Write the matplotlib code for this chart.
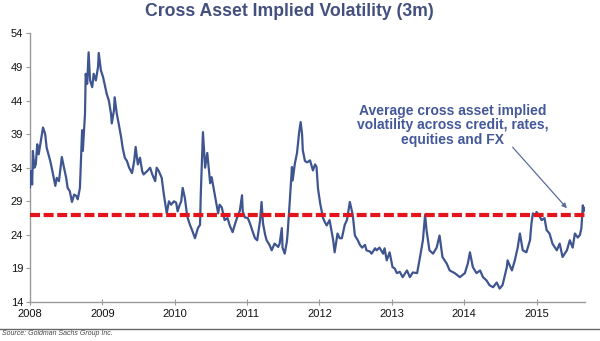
import matplotlib
matplotlib.use("Agg")
import matplotlib.pyplot as plt
import numpy as np

# ── series: 3m cross-asset implied vol, sampled as decimal years ─────────────
years = [
    2008.00, 2008.01, 2008.03, 2008.04, 2008.06, 2008.08, 2008.10, 2008.12, 2008.15, 2008.18,
    2008.21, 2008.23, 2008.28, 2008.30, 2008.35, 2008.37, 2008.40, 2008.44, 2008.47, 2008.50,
    2008.52, 2008.55, 2008.58, 2008.61, 2008.64, 2008.66, 2008.69, 2008.72, 2008.73, 2008.76,
    2008.77, 2008.79, 2008.80, 2008.81, 2008.83, 2008.86, 2008.88, 2008.91, 2008.94, 2008.95,
    2008.98, 2009.01, 2009.04, 2009.06, 2009.09, 2009.12, 2009.13, 2009.16, 2009.17, 2009.20,
    2009.23, 2009.26, 2009.28, 2009.31, 2009.34, 2009.37, 2009.41, 2009.44, 2009.46, 2009.49,
    2009.52, 2009.55, 2009.57, 2009.62, 2009.66, 2009.69, 2009.73, 2009.75, 2009.78, 2009.82,
    2009.85, 2009.89, 2009.92, 2009.95, 2009.99, 2010.02, 2010.04, 2010.07, 2010.09, 2010.11,
    2010.14, 2010.17, 2010.18, 2010.21, 2010.24, 2010.28, 2010.32, 2010.35, 2010.36, 2010.39,
    2010.42, 2010.45, 2010.49, 2010.51, 2010.56, 2010.60, 2010.62, 2010.65, 2010.69, 2010.73,
    2010.76, 2010.80, 2010.83, 2010.86, 2010.90, 2010.93, 2010.94, 2010.97, 2011.01, 2011.04,
    2011.08, 2011.11, 2011.14, 2011.18, 2011.20, 2011.22, 2011.25, 2011.27, 2011.31, 2011.34,
    2011.38, 2011.43, 2011.45, 2011.48, 2011.49, 2011.52, 2011.55, 2011.56, 2011.59, 2011.62,
    2011.63, 2011.66, 2011.69, 2011.72, 2011.74, 2011.76, 2011.77, 2011.80, 2011.83, 2011.87,
    2011.91, 2011.94, 2011.96, 2011.98, 2012.01, 2012.05, 2012.07, 2012.10, 2012.14, 2012.19,
    2012.21, 2012.25, 2012.28, 2012.31, 2012.35, 2012.38, 2012.42, 2012.45, 2012.46, 2012.49,
    2012.53, 2012.56, 2012.59, 2012.63, 2012.65, 2012.70, 2012.72, 2012.77, 2012.79, 2012.83,
    2012.88, 2012.90, 2012.93, 2012.97, 2013.01, 2013.04, 2013.07, 2013.11, 2013.15, 2013.18,
    2013.21, 2013.25, 2013.29, 2013.35, 2013.39, 2013.43, 2013.46, 2013.48, 2013.52, 2013.57,
    2013.62, 2013.66, 2013.70, 2013.76, 2013.80, 2013.87, 2013.94, 2014.01, 2014.05, 2014.08,
    2014.12, 2014.17, 2014.22, 2014.26, 2014.31, 2014.35, 2014.40, 2014.45, 2014.49, 2014.53,
    2014.59, 2014.60, 2014.66, 2014.70, 2014.74, 2014.77, 2014.81, 2014.86, 2014.91, 2014.93,
    2014.95, 2014.98, 2015.00, 2015.03, 2015.07, 2015.11, 2015.14, 2015.18, 2015.22, 2015.28,
    2015.32, 2015.36, 2015.42, 2015.46, 2015.50, 2015.53, 2015.57, 2015.60, 2015.62, 2015.64,
    2015.65, 2015.67,
]
implied_vol = [
    31.1, 33.5, 31.5, 36.5, 34.0, 34.5, 37.5, 36.0, 38.0, 40.0,
    39.0, 37.0, 35.0, 34.0, 31.3, 32.5, 32.0, 35.6, 34.0, 32.5,
    31.0, 30.5, 28.9, 30.0, 29.8, 29.3, 31.0, 39.6, 36.5, 42.0,
    48.0, 46.5, 49.0, 51.2, 47.0, 46.0, 48.0, 47.0, 49.0, 51.1,
    48.5, 47.5, 46.0, 45.0, 44.0, 42.0, 40.6, 42.5, 44.5, 42.0,
    40.3, 38.5, 37.0, 35.5, 35.0, 34.0, 33.2, 35.0, 37.1, 34.5,
    35.5, 33.5, 33.0, 33.5, 34.0, 33.0, 32.0, 34.0, 33.5, 32.5,
    30.0, 27.2, 29.0, 28.5, 29.0, 28.8, 27.5, 28.5, 29.0, 31.0,
    29.5, 27.0, 26.5, 25.5, 24.7, 23.5, 25.0, 25.5, 30.0, 39.3,
    34.0, 36.2, 31.7, 32.6, 29.6, 27.2, 28.5, 28.1, 26.2, 26.5,
    25.4, 24.4, 25.5, 26.5, 27.6, 29.9, 27.5, 26.6, 26.5, 25.7,
    24.4, 23.5, 23.2, 26.2, 28.9, 25.7, 24.0, 23.2, 22.5, 21.7,
    22.7, 22.2, 22.7, 25.0, 22.1, 21.2, 23.0, 24.2, 29.0, 34.1,
    32.1, 34.6, 36.2, 39.3, 40.8, 39.0, 36.6, 35.0, 34.8, 35.1,
    33.6, 34.5, 34.1, 30.9, 28.7, 26.5, 26.0, 25.4, 26.2, 23.2,
    21.4, 24.2, 23.5, 23.5, 25.5, 26.2, 28.9, 27.5, 27.0, 23.9,
    23.2, 22.5, 22.1, 22.5, 21.7, 21.5, 21.2, 22.0, 21.7, 22.1,
    21.2, 22.0, 20.2, 21.4, 19.2, 19.0, 18.3, 18.5, 17.7, 18.2,
    18.7, 17.7, 18.4, 18.3, 20.7, 23.2, 27.0, 24.7, 21.7, 21.2,
    22.1, 23.9, 20.7, 19.7, 18.7, 18.3, 17.7, 18.3, 19.7, 21.4,
    19.2, 18.3, 18.7, 17.7, 17.2, 16.5, 16.2, 16.9, 16.0, 16.5,
    19.2, 20.2, 18.7, 20.2, 22.1, 24.2, 21.7, 21.4, 23.2, 25.7,
    27.2, 26.8, 27.4, 27.0, 26.2, 26.5, 24.7, 24.2, 22.7, 21.7,
    22.7, 20.7, 21.7, 23.2, 22.1, 24.2, 23.6, 24.0, 25.0, 28.4,
    27.5, 28.0,
]
avg_level = 26.9

year_ticks = [2008, 2009, 2010, 2011, 2012, 2013, 2014, 2015]
vol_ticks = [14, 19, 24, 29, 34, 39, 44, 49, 54]

title = "Cross Asset Implied Volatility (3m)"
note = "Average cross asset implied\nvolatility across credit, rates,\nequities and FX"
source = "Source: Goldman Sachs Group Inc."

# ── styling ──────────────────────────────────────────────────────────────────
plt.rcParams["font.family"] = ["Liberation Sans", "DejaVu Sans"]
plt.rcParams["lines.scale_dashes"] = False

NAVY = "#3f5590"
TITLE_COL = "#43507f"
NOTE_COL = "#44599a"
RED = "#e3141c"
AXIS_GREY = "#9a9a9a"

fig = plt.figure(figsize=(6.0, 3.41), dpi=100)
ax = fig.add_axes([0.05, 0.1144, 0.925, 0.7874])

ax.plot(years, implied_vol, color=NAVY, lw=1.6, solid_joinstyle="round", zorder=3)
ax.axhline(avg_level, color=RED, lw=3.0, dashes=(7.2, 2.6),
           dash_capstyle="butt", zorder=4)

ax.set_xlim(2008.0, 2015.67)
ax.set_ylim(14, 54)
ax.set_xticks(year_ticks)
ax.set_xticklabels([str(y) for y in year_ticks])
ax.set_yticks(vol_ticks)

for side in ("top", "right"):
    ax.spines[side].set_visible(False)
for side in ("left", "bottom"):
    ax.spines[side].set_color(AXIS_GREY)
    ax.spines[side].set_linewidth(1.0)

ax.tick_params(axis="y", direction="out", length=3, color=AXIS_GREY,
               labelsize=8, pad=2, labelcolor="#111111")
ax.tick_params(axis="x", direction="inout", length=4, color=AXIS_GREY,
               labelsize=8, pad=3, labelcolor="#111111")

# annotation block + arrow toward the latest reading
ax.text(2013.84, 40.3, note, ha="center", va="center", fontsize=10,
        fontweight="bold", color=NOTE_COL, linespacing=1.05, zorder=5)
ax.annotate("", xy=(2015.42, 27.96), xytext=(2014.67, 37.06),
            arrowprops=dict(arrowstyle="-|>", color="#5b6d9c", lw=0.9,
                            mutation_scale=7, shrinkA=0, shrinkB=0),
            zorder=5)

fig.text(0.482, 0.965, title, ha="center", va="center", fontsize=12.7,
         fontweight="bold", color=TITLE_COL)

# footer rule and source note
fig.add_artist(plt.Line2D([0, 1], [0.035, 0.035], transform=fig.transFigure,
                          color="#666666", lw=1.0))
fig.text(0.003, 0.022, source, ha="left", va="center", fontsize=5,
         fontstyle="italic", color="#444444")

fig.savefig("out.png", dpi=100)
